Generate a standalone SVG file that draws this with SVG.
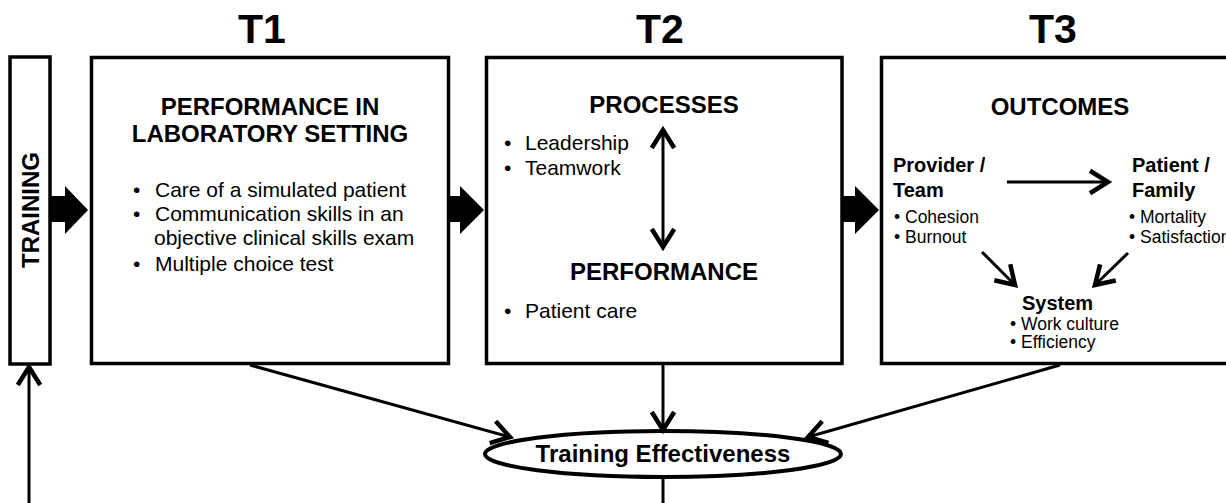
<svg xmlns="http://www.w3.org/2000/svg" width="1226" height="503" viewBox="0 0 1226 503">
<style>
text{font-family:"Liberation Sans",Arial,sans-serif;fill:#000}
.box{fill:#fff;stroke:#000;stroke-width:3.5}
.ttl{font-size:41px;font-weight:bold;text-anchor:middle}
.hd{font-size:24px;font-weight:bold;text-anchor:middle}
.b21{font-size:21px}
.sh{font-size:20px;font-weight:bold}
.s17{font-size:17.5px}
.ln{fill:none;stroke:#000;stroke-width:3}
.blk{fill:#000}
</style>
<defs>
<marker id="ah" markerUnits="userSpaceOnUse" markerWidth="30" markerHeight="30" refX="0" refY="0" viewBox="-16 -10 20 20" orient="auto-start-reverse" overflow="visible">
<path d="M-12,-7.5 L0,0 L-12,7.5" fill="none" stroke="#000" stroke-width="3"/>
</marker>
</defs>
<g id="titles">
<text class="ttl" x="262" y="43">T1</text>
<text class="ttl" x="660" y="43">T2</text>
<text class="ttl" x="1053" y="43">T3</text>
</g>
<g id="training">
<rect class="box" x="10" y="57" width="40" height="307"/>
<text class="hd" transform="translate(39,210) rotate(-90)" x="0" y="0">TRAINING</text>
</g>
<g id="t1">
<rect class="box" x="91.5" y="57.5" width="357" height="306"/>
<text class="hd" x="270" y="115">PERFORMANCE IN</text>
<text class="hd" x="270" y="142">LABORATORY SETTING</text>
<text class="b21" x="133" y="197">•</text><text class="b21" x="155" y="197">Care of a simulated patient</text>
<text class="b21" x="133" y="221">•</text><text class="b21" x="155" y="221">Communication skills in an</text>
<text class="b21" x="154" y="245">objective clinical skills exam</text>
<text class="b21" x="133" y="271">•</text><text class="b21" x="155" y="271">Multiple choice test</text>
</g>
<g id="t2">
<rect class="box" x="486.5" y="57.5" width="355.5" height="306"/>
<text class="hd" x="664" y="113">PROCESSES</text>
<text class="b21" x="504" y="150">•</text><text class="b21" x="525" y="150">Leadership</text>
<text class="b21" x="504" y="175">•</text><text class="b21" x="525" y="175">Teamwork</text>
<text class="hd" x="664" y="280">PERFORMANCE</text>
<text class="b21" x="504" y="318">•</text><text class="b21" x="525" y="318">Patient care</text>
</g>
<g id="t3">
<rect class="box" x="881.5" y="57.5" width="400" height="306"/>
<text class="hd" x="1060" y="115">OUTCOMES</text>
<text class="sh" x="893" y="172">Provider /</text>
<text class="sh" x="893" y="197">Team</text>
<text class="s17" x="894" y="223">• Cohesion</text>
<text class="s17" x="894" y="243">• Burnout</text>
<text class="sh" x="1132" y="172">Patient /</text>
<text class="sh" x="1132" y="197">Family</text>
<text class="s17" x="1129" y="223">• Mortality</text>
<text class="s17" x="1129" y="243">• Satisfaction</text>
<text class="sh" x="1022" y="310">System</text>
<text class="s17" x="1010" y="330">• Work culture</text>
<text class="s17" x="1010" y="348">• Efficiency</text>
</g>
<g id="effectiveness">
<ellipse cx="663" cy="454" rx="178" ry="23" fill="#fff" stroke="#000" stroke-width="4"/>
<text class="hd" x="663" y="462">Training Effectiveness</text>
</g>
<g id="connectors">
<polygon class="blk" points="50,196 65,196 65,186 88,210 65,234 65,222 50,222"/>
<polygon class="blk" points="448,196 460,196 460,186 484,210 460,234 460,222 448,222"/>
<polygon class="blk" points="842,196 855,196 855,186 879,210 855,234 855,222 842,222"/>
<line class="ln" x1="663" y1="130" x2="663" y2="247" marker-start="url(#ah)" marker-end="url(#ah)"/>
<line class="ln" x1="1007" y1="182" x2="1108" y2="182" marker-end="url(#ah)"/>
<line class="ln" x1="982" y1="252" x2="1015" y2="285" marker-end="url(#ah)"/>
<line class="ln" x1="1128" y1="253" x2="1095" y2="285" marker-end="url(#ah)"/>
<line class="ln" x1="250" y1="365" x2="510" y2="437" marker-end="url(#ah)"/>
<line class="ln" x1="663" y1="365" x2="663" y2="430" marker-end="url(#ah)"/>
<line class="ln" x1="1060" y1="365" x2="808" y2="437" marker-end="url(#ah)"/>
<line class="ln" x1="663" y1="477" x2="663" y2="503"/>
<line class="ln" x1="29" y1="503" x2="29" y2="367" marker-end="url(#ah)"/>
</g>
</svg>
